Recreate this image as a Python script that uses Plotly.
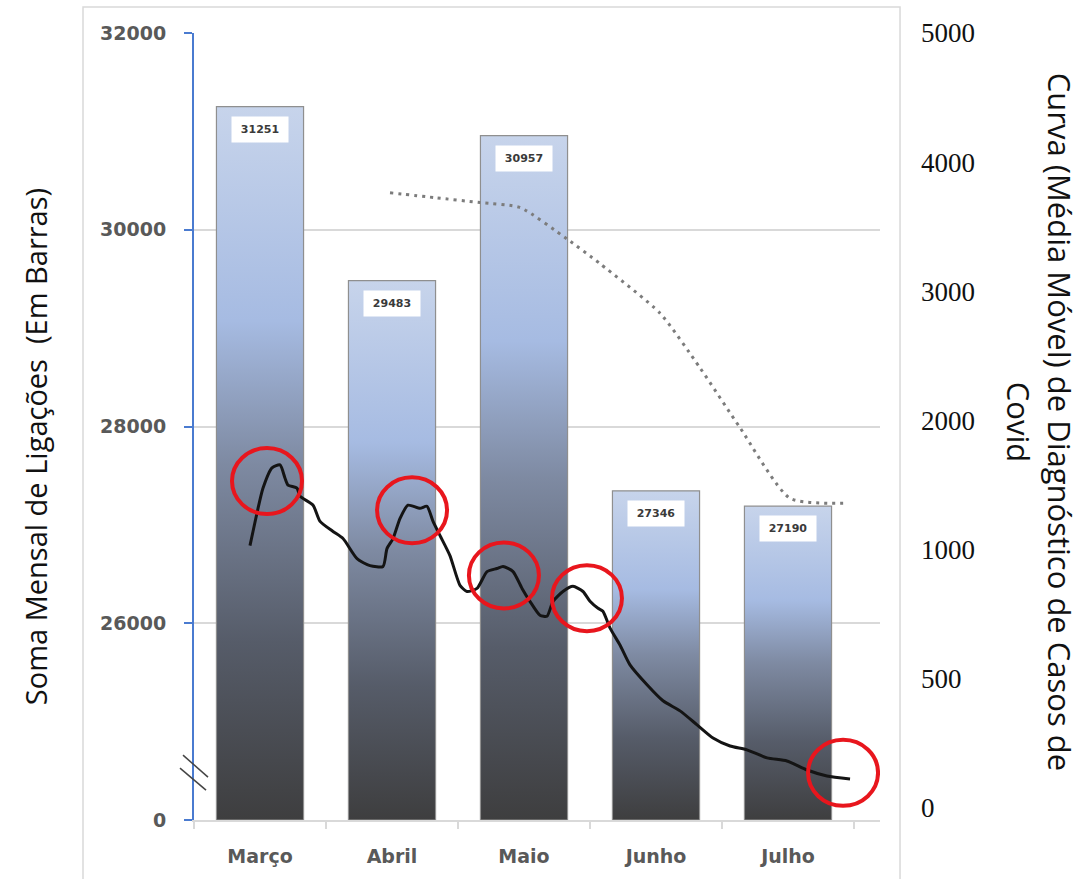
import numpy as np
import plotly.graph_objects as go

# ---------------- data ----------------
MONTHS = ["Março", "Abril", "Maio", "Junho", "Julho"]
CALLS = [31251, 29483, 30957, 27346, 27190]          # bars (left axis)

LEFT_TICK_VALS = [24000, 26000, 28000, 30000, 32000]   # broken axis: bottom shown as 0
LEFT_TICK_TEXT = ["0", "26000", "28000", "30000", "32000"]

RIGHT_TICKS = [0, 500, 1000, 2000, 3000, 4000, 5000]   # non-uniform right axis labels

# daily moving average (position in months: 0 = Março centre)
CURVE_MONTH = [-0.076, -0.053, -0.015, 0.023, 0.091, 0.152, 0.189, 0.212, 0.280, 0.303,
               0.402, 0.455, 0.553, 0.629, 0.735, 0.833, 0.932, 0.962, 1.008, 1.061,
               1.121, 1.212, 1.265, 1.311, 1.364, 1.439, 1.515, 1.568, 1.644, 1.720,
               1.795, 1.841, 1.917, 1.985, 2.045, 2.121, 2.174, 2.220, 2.295, 2.371,
               2.447, 2.500, 2.561, 2.598, 2.652, 2.727, 2.803, 2.932, 3.053, 3.182,
               3.311, 3.432, 3.561, 3.689, 3.841, 3.992, 4.144, 4.295, 4.470]
CURVE_CASES = [1031, 1141, 1320, 1477, 1633, 1656, 1555, 1500, 1477, 1414,
               1344, 1219, 1141, 1086, 965, 938, 935, 1008, 1086, 1242,
               1344, 1320, 1336, 1219, 1109, 977, 862, 838, 850, 915,
               927, 935, 915, 850, 800, 746, 742, 800, 838, 858,
               838, 800, 773, 762, 696, 631, 554, 477, 415, 376,
               322, 271, 240, 225, 194, 182, 147, 124, 112]

# dotted trend line
DOT_MONTH = [0.985, 1.326, 1.667, 1.970, 2.326, 2.576, 3.030, 3.333, 3.636, 4.015, 4.455]
DOT_CASES = [3763, 3725, 3687, 3649, 3405, 3214, 2831, 2408, 1945, 1398, 1359]

# highlighted peaks (red circles)
CIRCLE_MONTH = [0.053, 1.152, 1.848, 2.477, 4.417]
CIRCLE_CASES = [1531, 1305, 900, 812, 136]

# ---------------- helpers ----------------
BAR_WIDTH = 0.66
AXIS_FLOOR = LEFT_TICK_VALS[0]
X_MAX = 4.697


def right_scale(v):
    """Piecewise-linear scale matching the non-uniform right axis."""
    return np.interp(v, RIGHT_TICKS, np.arange(len(RIGHT_TICKS)))


GRAD = [[0.0, "#3e3e3f"], [0.25, "#565c69"], [0.5, "#7e8aa2"],
        [0.70, "#a6bbe2"], [1.0, "#c7d4eb"]]

fig = go.Figure()

for i, v in enumerate(CALLS):
    x0, x1 = i - BAR_WIDTH / 2, i + BAR_WIDTH / 2
    fig.add_trace(go.Scatter(
        x=[x0, x0, x1, x1, x0], y=[AXIS_FLOOR, v, v, AXIS_FLOOR, AXIS_FLOOR],
        mode="lines", fill="toself",
        fillgradient=dict(type="vertical", colorscale=GRAD),
        line=dict(color="#8f8f8f", width=1.2),
        hoverinfo="skip", showlegend=False, xaxis="x", yaxis="y"))
    fig.add_annotation(x=i, y=v, xref="x", yref="y", text=f"{v}",
                       showarrow=False, yanchor="top", yshift=-9,
                       bgcolor="white", width=46, height=15, borderpad=5,
                       font=dict(family="DejaVu Sans", size=11, color="#3a3a3a", weight="bold"))

fig.add_trace(go.Scatter(
    x=DOT_MONTH, y=right_scale(DOT_CASES), mode="lines",
    line=dict(color="#7c7c7c", width=3, dash="3px,5px", shape="spline", smoothing=0.6),
    hoverinfo="skip", showlegend=False, xaxis="x", yaxis="y2"))

fig.add_trace(go.Scatter(
    x=CURVE_MONTH, y=right_scale(CURVE_CASES), mode="lines",
    line=dict(color="#141414", width=3, shape="spline", smoothing=0.6),
    hoverinfo="skip", showlegend=False, xaxis="x", yaxis="y2"))

circ_pos = right_scale(CIRCLE_CASES)
for cx, cy in zip(CIRCLE_MONTH, circ_pos):
    fig.add_shape(type="circle", xref="x", yref="y2",
                  xsizemode="pixel", ysizemode="pixel",
                  xanchor=cx, yanchor=cy, x0=-35, x1=35, y0=-33, y1=33,
                  line=dict(color="#e8161d", width=4))

# axis break marks
for (xa, ya, xb, yb) in [(-0.016, 24659, 0.0204, 24436), (-0.0204, 24527, 0.0175, 24304)]:
    fig.add_shape(type="line", xref="paper", yref="y", x0=xa, y0=ya, x1=xb, y1=yb,
                  line=dict(color="#444444", width=1.5))

# outer chart frame
fig.add_shape(type="rect", xref="paper", yref="paper", x0=-0.1618, x1=1.0292,
              y0=-0.09, y1=1.033, line=dict(color="#d9d9d9", width=1.5), layer="below")

# axis titles
fig.add_annotation(xref="paper", yref="paper", x=-0.2318, y=0.475,
                   text="Soma Mensal de Ligações  (Em Barras)", textangle=-90,
                   showarrow=False, xanchor="center", yanchor="middle",
                   font=dict(family="Open Sans", size=29, color="#111111"))
fig.add_annotation(xref="paper", yref="paper", x=1.2332, y=0.506,
                   text="Curva (Média Móvel) de Diagnóstico de Casos de<br>Covid", textangle=90,
                   showarrow=False, xanchor="center", yanchor="middle",
                   font=dict(family="Open Sans", size=31, color="#111111"))

fig.update_layout(
    width=1086, height=879, autosize=False,
    margin=dict(l=194, r=206, t=33, b=57),
    paper_bgcolor="white", plot_bgcolor="white",
    xaxis=dict(range=[-0.5, X_MAX], tickmode="array", tickvals=list(range(len(MONTHS))),
               ticktext=MONTHS, ticks="", showgrid=False, zeroline=False,
               showline=True, linecolor="#d9d9d9", linewidth=1.5,
               minor=dict(tickmode="array", tickvals=[k - 0.5 for k in range(len(MONTHS) + 1)],
                          ticks="outside", ticklen=7, tickcolor="#d9d9d9", tickwidth=1.5,
                          showgrid=False),
               tickfont=dict(family="DejaVu Sans", size=19, color="#595959", weight="bold"),
               ticklabelstandoff=18),
    yaxis=dict(range=[LEFT_TICK_VALS[0], LEFT_TICK_VALS[-1]], tickmode="array",
               tickvals=LEFT_TICK_VALS, ticktext=LEFT_TICK_TEXT,
               showline=True, linecolor="#4a7bd0", linewidth=2,
               ticks="outside", ticklen=8, tickcolor="#4a7bd0", tickwidth=2,
               showgrid=True, gridcolor="#d9d9d9", gridwidth=1.5, zeroline=False,
               tickfont=dict(family="DejaVu Sans", size=19, color="#595959", weight="bold"),
               ticklabelstandoff=14),
    yaxis2=dict(overlaying="y", side="right", range=[-0.093, 6.0], tickmode="array",
                tickvals=list(range(len(RIGHT_TICKS))), ticktext=[str(t) for t in RIGHT_TICKS],
                showgrid=False, zeroline=False, showline=False, ticks="",
                tickfont=dict(family="Liberation Serif", size=27, color="#111111"),
                ticklabelstandoff=40),
)

fig.write_html("out.html")
